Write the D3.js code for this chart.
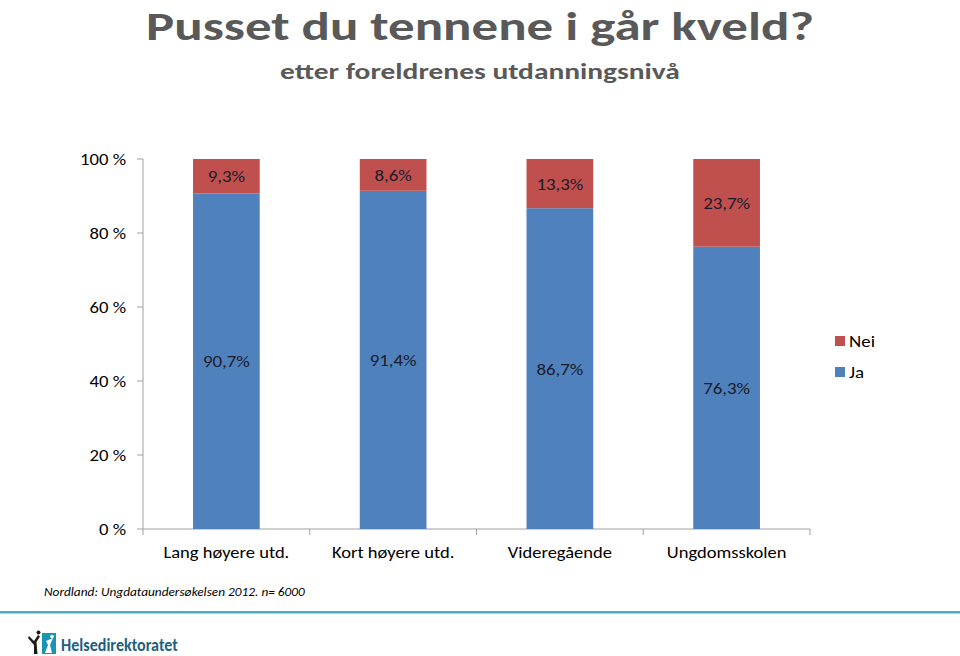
<!DOCTYPE html>
<html><head><meta charset="utf-8">
<script src="https://cdn.jsdelivr.net/npm/d3@7"></script>
<style>
html,body{margin:0;padding:0;background:#fff;}
svg text{font-family:Carlito, Lato, "Open Sans", sans-serif;}
</style></head>
<body><svg id="c" width="960" height="656"></svg>
<script>
const categories = ["Lang høyere utd.", "Kort høyere utd.", "Videregående", "Ungdomsskolen"];
const jaValues = [90.7, 91.4, 86.7, 76.3];
const neiValues = [9.3, 8.6, 13.3, 23.7];
const jaLabels = ["90,7%", "91,4%", "86,7%", "76,3%"];
const neiLabels = ["9,3%", "8,6%", "13,3%", "23,7%"];
const yTicks = [0, 20, 40, 60, 80, 100];
const seriesNames = ["Nei", "Ja"];
const colors = {Ja: "#4f81bd", Nei: "#c0504d"};

const svg = d3.select("#c");
const x = d3.scaleBand().domain(categories).range([143, 810]).paddingInner(0.6).paddingOuter(0.3);
const xb = d3.scaleBand().domain(categories).range([143, 810]);
const y = d3.scaleLinear().domain([0, 100]).range([529, 159]);

// measure a string's width at a font
const meas = svg.append("text").attr("x", 10).attr("y", 300).attr("fill", "none");
function widthOf(str, size, weight, style) {
  meas.attr("font-size", size).attr("font-weight", weight || "normal").attr("font-style", style || "normal").text(str);
  return meas.node().getComputedTextLength();
}
// squeezed text: placed via transform so horizontal scale k applies about anchor
function txt(parent, px, py, str, o) {
  return parent.append("text")
    .attr("transform", `translate(${px},${py}) scale(${o.k},1)`)
    .attr("text-anchor", o.anchor || "start")
    .attr("font-size", o.size).attr("font-weight", o.weight || "normal")
    .attr("font-style", o.style || "normal").attr("fill", o.fill || "#000")
    .text(str);
}

// Title
const titleStr = "Pusset du tennene i går kveld?";
txt(svg, 480, 40, titleStr, {anchor: "middle", size: 40, weight: "bold", fill: "#595959",
  k: 668 / widthOf(titleStr, 40, "bold")});
const subStr = "etter foreldrenes utdanningsnivå";
txt(svg, 480, 79, subStr, {anchor: "middle", size: 21.5, weight: "bold", fill: "#595959",
  k: 400 / widthOf(subStr, 21.5, "bold")});

// Axes
const axisColor = "#a0a0a0";
svg.append("line").attr("x1", 143).attr("x2", 143).attr("y1", y(100)).attr("y2", y(0)).attr("stroke", axisColor);
const kTick = 46 / widthOf("100 %", 15.5);
yTicks.forEach(v => {
  svg.append("line").attr("x1", 137).attr("x2", 143).attr("y1", y(v)).attr("y2", y(v)).attr("stroke", axisColor);
  txt(svg, 126, y(v) + 6, v + " %", {anchor: "end", size: 15.5, k: kTick});
});
svg.append("line").attr("x1", 143).attr("x2", 810).attr("y1", y(0)).attr("y2", y(0)).attr("stroke", axisColor);
const bounds = categories.map(c => xb(c)).concat([xb.range()[1]]);
bounds.forEach(b => svg.append("line").attr("x1", b).attr("x2", b).attr("y1", y(0)).attr("y2", y(0) + 6).attr("stroke", axisColor));
const kCat = 126 / widthOf(categories[0], 16);
categories.forEach(c => txt(svg, x(c) + x.bandwidth() / 2, 558, c, {anchor: "middle", size: 16, k: kCat}));

// Bars
const stackData = categories.map((c, i) => ({cat: c, Ja: jaValues[i], Nei: neiValues[i]}));
const stack = d3.stack().keys(["Ja", "Nei"])(stackData);
const labelsBy = {Ja: jaLabels, Nei: neiLabels};
const kLab = 47 / widthOf("90,7%", 15.5);
stack.forEach(s => {
  const g = svg.append("g");
  g.selectAll("rect").data(s).join("rect")
    .attr("x", d => x(d.data.cat)).attr("width", x.bandwidth())
    .attr("y", d => y(d[1])).attr("height", d => y(d[0]) - y(d[1]))
    .attr("fill", colors[s.key]);
  s.forEach((d, i) => {
    txt(g, x(d.data.cat) + x.bandwidth() / 2, (y(d[0]) + y(d[1])) / 2 + 6, labelsBy[s.key][i],
      {anchor: "middle", size: 15.5, fill: "#1a1a2a", k: kLab});
  });
});

// Legend
const lg = svg.append("g");
const kLeg = 26 / widthOf("Nei", 16);
seriesNames.forEach((n, i) => {
  lg.append("rect").attr("x", 835).attr("y", 336 + i * 31).attr("width", 10).attr("height", 10).attr("fill", colors[n]);
  txt(lg, 849, 347 + i * 31, n, {size: 16, k: kLeg});
});

// Footnote
const footStr = "Nordland: Ungdataundersøkelsen 2012. n= 6000";
txt(svg, 44, 596, footStr, {size: 12.5, style: "italic", k: 261 / widthOf(footStr, 12.5, "normal", "italic")});

// Teal line
svg.append("rect").attr("x", 0).attr("y", 611).attr("width", 960).attr("height", 2.5).attr("fill", "#4bacc6");

// Logo
const logo = svg.append("g");
logo.append("rect").attr("x", 42).attr("y", 633).attr("width", 14).attr("height", 21).attr("fill", "#1a93b5");
logo.append("path").attr("d", "M45,653 L48,645 L46,641 L53,638 L50,645 L52,653 Z").attr("fill", "#fff");
logo.append("circle").attr("cx", 52).attr("cy", 636.5).attr("r", 1.8).attr("fill", "#fff");
logo.append("path").attr("d", "M29,636 L34,641 L38,635 L40,636.5 L36.5,642 L37.5,654 L34,654 L34,645 L28,638 Z").attr("fill", "#1a1a1a");
logo.append("circle").attr("cx", 38.5).attr("cy", 632.5).attr("r", 2).attr("fill", "#1a1a1a");
const logoStr = "Helsedirektoratet";
txt(logo, 61, 651, logoStr, {size: 17, weight: "600", fill: "#1d5f80", k: 117 / widthOf(logoStr, 17, "600")});

meas.remove();
</script></body></html>
